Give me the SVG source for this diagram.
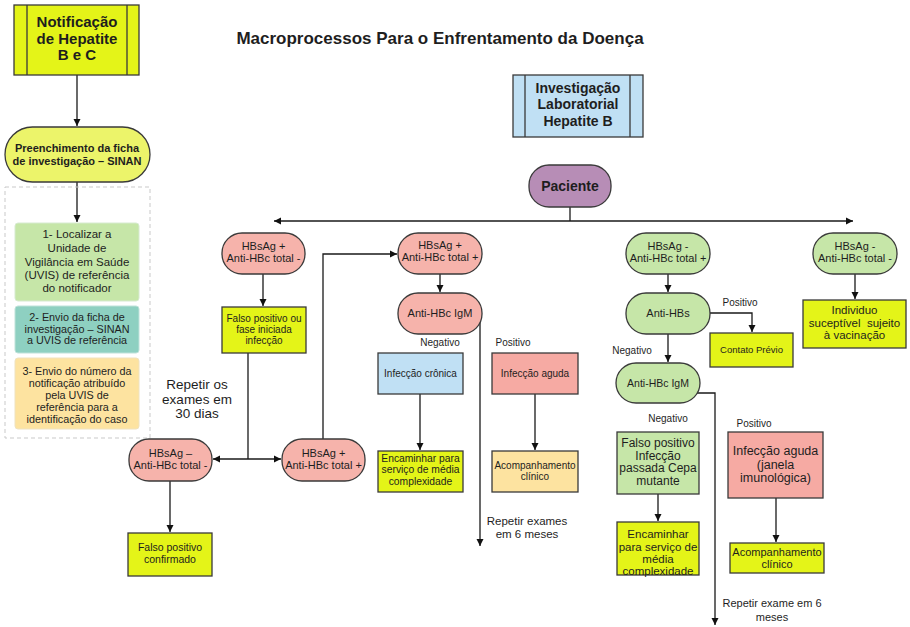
<svg xmlns="http://www.w3.org/2000/svg" width="910" height="627" viewBox="0 0 910 627">
  <defs>
    <marker id="arrow" viewBox="0 0 10 10" refX="10" refY="5" markerWidth="7" markerHeight="8" markerUnits="userSpaceOnUse" orient="auto-start-reverse">
      <path d="M0,0 L10,5 L0,10 Z" fill="#111"/>
    </marker>
    <style>
      text { font-family: "Liberation Sans", Arial, sans-serif; fill: #1e1e1e; text-anchor: middle; }
      .b { font-weight: bold; }
      .node { stroke: #3a3a3a; stroke-width: 1.3; }
      .yellow { fill: #e4f418; }
      .pale { fill: #ecf46a; }
      .red { fill: #f6b3ab; }
      .redbox { fill: #f6aaa3; }
      .green { fill: #c6e6a8; }
      .blue { fill: #c0e0f4; }
      .orange { fill: #fde3a0; }
      .teal { fill: #8ed0c1; }
      .purple { fill: #b78db6; }
      .soft { stroke: #c9c9c9; stroke-width: 1; }
      .conn path { fill: none; stroke: #1a1a1a; stroke-width: 1.3; }
      .label { font-size: 10px; }
    </style>
  </defs>

  <rect width="910" height="627" fill="#ffffff"/>

  <text class="b" x="440" y="44" font-size="17">Macroprocessos Para o Enfrentamento da Doença</text>

  <!-- connectors -->
  <g id="connectors" class="conn">
    <path d="M77,75 V126" marker-end="url(#arrow)"/>
    <path d="M77,182 V222" marker-end="url(#arrow)"/>
    <path d="M570,207 V221"/>
    <path d="M274,221 H853" marker-start="url(#arrow)" marker-end="url(#arrow)"/>
    <path d="M263,274 V306" marker-end="url(#arrow)"/>
    <path d="M248,353 V459"/>
    <path d="M213,459 H281" marker-start="url(#arrow)" marker-end="url(#arrow)"/>
    <path d="M323,439 V254 H397" marker-end="url(#arrow)"/>
    <path d="M170,481 V532" marker-end="url(#arrow)"/>
    <path d="M440,274 V292" marker-end="url(#arrow)"/>
    <path d="M480,322 V546" marker-end="url(#arrow)"/>
    <path d="M420,394 V450" marker-end="url(#arrow)"/>
    <path d="M535,394 V450" marker-end="url(#arrow)"/>
    <path d="M668,274 V292" marker-end="url(#arrow)"/>
    <path d="M710,313 H752 V332" marker-end="url(#arrow)"/>
    <path d="M668,334 V362" marker-end="url(#arrow)"/>
    <path d="M697,393 H715 V625" marker-end="url(#arrow)"/>
    <path d="M658,494 V521" marker-end="url(#arrow)"/>
    <path d="M776,498 V542" marker-end="url(#arrow)"/>
    <path d="M855,274 V299" marker-end="url(#arrow)"/>
  </g>

  <!-- connector labels -->
  <g id="connector-labels">
    <text x="197" y="389" font-size="13.5">Repetir os</text>
    <text x="197" y="404" font-size="13.5">exames em</text>
    <text x="197" y="418" font-size="13.5">30 dias</text>
    <text class="label" x="440" y="346">Negativo</text>
    <text class="label" x="513" y="346">Positivo</text>
    <text x="527" y="525" font-size="11.5">Repetir exames</text>
    <text x="527" y="538" font-size="11.5">em 6 meses</text>
    <text class="label" x="740" y="306">Positivo</text>
    <text class="label" x="632" y="354">Negativo</text>
    <text class="label" x="668" y="422">Negativo</text>
    <text class="label" x="754" y="427">Positivo</text>
    <text x="772" y="607" font-size="11">Repetir exame em 6</text>
    <text x="772" y="621" font-size="11">meses</text>
  </g>

  <!-- left column: notification workflow -->
  <g id="notificacao">
    <rect class="node yellow" x="14" y="5" width="125" height="70"/>
    <path class="node" d="M27,5 V75 M127,5 V75" fill="none"/>
    <text class="b" x="77" y="27" font-size="15">Notificação</text>
    <text class="b" x="77" y="43.5" font-size="15">de Hepatite</text>
    <text class="b" x="77" y="60" font-size="15">B e C</text>
  </g>

  <g id="preenchimento">
    <rect class="node pale" x="5" y="127" width="145" height="55" rx="27.5"/>
    <text class="b" x="77" y="152" font-size="11">Preenchimento da ficha</text>
    <text class="b" x="77" y="165" font-size="11">de investigação – SINAN</text>
  </g>

  <g id="etapas">
    <rect class="soft" x="5" y="187" width="145" height="251" fill="none" stroke-dasharray="4 3"/>
  </g>

  <g id="etapa1">
    <rect x="15" y="223" width="124" height="78" rx="3" class="green" stroke="#d6ead0" stroke-width="1"/>
    <text x="77" y="238" font-size="11.5">1- Localizar a</text>
    <text x="77" y="252" font-size="11.5">Unidade de</text>
    <text x="77" y="266" font-size="11.5">Vigilância em Saúde</text>
    <text x="77" y="279" font-size="11.5">(UVIS) de referência</text>
    <text x="77" y="292" font-size="11.5">do notificador</text>
  </g>

  <g id="etapa2">
    <rect x="15" y="306" width="124" height="47" rx="3" class="teal" stroke="#bfe2da" stroke-width="1"/>
    <text x="77" y="321" font-size="10.8">2- Envio da ficha de</text>
    <text x="77" y="332.5" font-size="10.8">investigação – SINAN</text>
    <text x="77" y="344" font-size="10.8">a UVIS de referência</text>
  </g>

  <g id="etapa3">
    <rect x="15" y="358" width="124" height="71" rx="3" class="orange" stroke="#efe2bf" stroke-width="1"/>
    <text x="77" y="374.5" font-size="10.8">3- Envio do número da</text>
    <text x="77" y="386.5" font-size="10.8">notificação atribuído</text>
    <text x="77" y="398.5" font-size="10.8">pela UVIS de</text>
    <text x="77" y="410.5" font-size="10.8">referência para a</text>
    <text x="77" y="422.5" font-size="10.8">identificação do caso</text>
  </g>

  <!-- hepatitis B laboratory investigation -->
  <g id="investigacao">
    <rect class="node blue" x="513" y="75" width="130" height="62"/>
    <path class="node" d="M525,75 V137 M630,75 V137" fill="none"/>
    <text class="b" x="578" y="93" font-size="14">Investigação</text>
    <text class="b" x="578" y="109" font-size="14">Laboratorial</text>
    <text class="b" x="578" y="126" font-size="14">Hepatite B</text>
  </g>

  <g id="paciente">
    <rect class="node purple" x="529" y="165" width="82" height="42" rx="20"/>
    <text class="b" x="570" y="191" font-size="14">Paciente</text>
  </g>

  <!-- branch 1 -->
  <g id="hbsag-pos-antihbc-neg">
    <rect class="node red" x="222" y="233" width="83" height="41" rx="20"/>
    <text x="263.5" y="250" font-size="11">HBsAg +</text>
    <text x="263.5" y="262" font-size="11">Anti-HBc total -</text>
  </g>

  <g id="falso-positivo-inicial">
    <rect class="node yellow" x="222" y="307" width="84" height="46"/>
    <text x="264" y="322" font-size="10">Falso positivo ou</text>
    <text x="264" y="333" font-size="10">fase iniciada</text>
    <text x="264" y="344" font-size="10">infecção</text>
  </g>

  <g id="repeticao-neg">
    <rect class="node red" x="129" y="439" width="83" height="42" rx="20"/>
    <text x="170.5" y="457" font-size="11">HBsAg –</text>
    <text x="170.5" y="469" font-size="11">Anti-HBc total -</text>
  </g>

  <g id="repeticao-pos">
    <rect class="node red" x="282" y="439" width="83" height="42" rx="20"/>
    <text x="323.5" y="457" font-size="11">HBsAg +</text>
    <text x="323.5" y="469" font-size="11">Anti-HBc total +</text>
  </g>

  <g id="falso-positivo-confirmado">
    <rect class="node yellow" x="128" y="533" width="84" height="43"/>
    <text x="170" y="551" font-size="10.5">Falso positivo</text>
    <text x="170" y="563" font-size="10.5">confirmado</text>
  </g>

  <!-- branch 2 -->
  <g id="hbsag-pos-antihbc-pos">
    <rect class="node red" x="398" y="233" width="84" height="41" rx="20"/>
    <text x="440" y="249" font-size="11">HBsAg +</text>
    <text x="440" y="261" font-size="11">Anti-HBc total +</text>
  </g>

  <g id="igm-vermelho">
    <rect class="node red" x="398" y="293" width="84" height="41" rx="20"/>
    <text x="440" y="317" font-size="11">Anti-HBc IgM</text>
  </g>

  <g id="infeccao-cronica">
    <rect class="node blue" x="378" y="353" width="85" height="41"/>
    <text x="420.5" y="377" font-size="10">Infecção crônica</text>
  </g>

  <g id="infeccao-aguda">
    <rect class="node redbox" x="492" y="353" width="86" height="41"/>
    <text x="535" y="377" font-size="10">Infecção aguda</text>
  </g>

  <g id="encaminhar-1">
    <rect class="node yellow" x="378" y="451" width="85" height="41"/>
    <text x="420.5" y="462" font-size="10.3">Encaminhar para</text>
    <text x="420.5" y="473" font-size="10.3">serviço de média</text>
    <text x="420.5" y="484.5" font-size="10.3">complexidade</text>
  </g>

  <g id="acompanhamento-1">
    <rect class="node orange" x="492" y="451" width="86" height="41"/>
    <text x="535" y="469" font-size="10">Acompanhamento</text>
    <text x="535" y="480" font-size="10">clínico</text>
  </g>

  <!-- branch 3 -->
  <g id="hbsag-neg-antihbc-pos">
    <rect class="node green" x="626" y="233" width="84" height="41" rx="20"/>
    <text x="668" y="250" font-size="11">HBsAg -</text>
    <text x="668" y="262" font-size="11">Anti-HBc total +</text>
  </g>

  <g id="anti-hbs">
    <rect class="node green" x="626" y="293" width="84" height="41" rx="20"/>
    <text x="668" y="317" font-size="11">Anti-HBs</text>
  </g>

  <g id="contato-previo">
    <rect class="node yellow" x="710" y="333" width="83" height="34"/>
    <text x="751.5" y="353" font-size="9.5">Contato Prévio</text>
  </g>

  <g id="igm-verde">
    <rect class="node green" x="616" y="363" width="84" height="40" rx="20"/>
    <text x="658" y="387" font-size="10.5">Anti-HBc IgM</text>
  </g>

  <g id="falso-positivo-cepa">
    <rect class="node green" x="617" y="432" width="82" height="62"/>
    <text x="658" y="447" font-size="12">Falso positivo</text>
    <text x="658" y="459.5" font-size="12">Infecção</text>
    <text x="658" y="472" font-size="12">passada Cepa</text>
    <text x="658" y="484.5" font-size="12">mutante</text>
  </g>

  <g id="encaminhar-2">
    <rect class="node yellow" x="617" y="522" width="82" height="53"/>
    <text x="658" y="538" font-size="11.5">Encaminhar</text>
    <text x="658" y="550.5" font-size="11.5">para serviço de</text>
    <text x="658" y="563" font-size="11.5">média</text>
    <text x="658" y="575" font-size="11.5">complexidade</text>
  </g>

  <g id="janela-imunologica">
    <rect class="node redbox" x="728" y="432" width="95" height="66"/>
    <text x="775.5" y="455" font-size="12.5">Infecção aguda</text>
    <text x="775.5" y="468.5" font-size="12.5">(janela</text>
    <text x="775.5" y="482" font-size="12.5">imunológica)</text>
  </g>

  <g id="acompanhamento-2">
    <rect class="node yellow" x="730" y="543" width="94" height="30"/>
    <text x="777" y="556" font-size="11">Acompanhamento</text>
    <text x="777" y="567.5" font-size="11">clínico</text>
  </g>

  <!-- branch 4 -->
  <g id="hbsag-neg-antihbc-neg">
    <rect class="node green" x="813" y="233" width="84" height="41" rx="20"/>
    <text x="855" y="250" font-size="11">HBsAg -</text>
    <text x="855" y="262" font-size="11">Anti-HBc total -</text>
  </g>

  <g id="vacinacao">
    <rect class="node yellow" x="803" y="300" width="103" height="48"/>
    <text x="854.5" y="314" font-size="11.5">Individuo</text>
    <text x="854.5" y="326.5" font-size="11.5" xml:space="preserve">suceptível  sujeito</text>
    <text x="854.5" y="339" font-size="11.5">à vacinação</text>
  </g>
</svg>
